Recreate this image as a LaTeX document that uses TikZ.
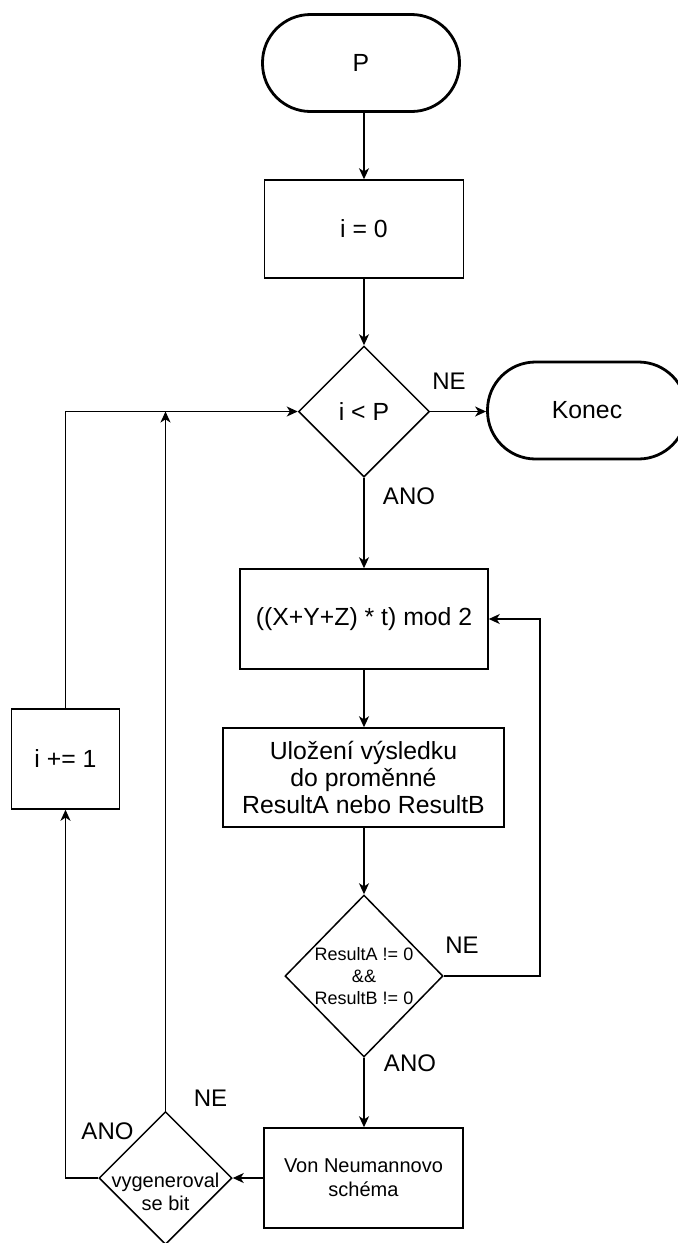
\documentclass[tikz,border=0pt]{standalone}
\usepackage{fontspec}
\setmainfont{Liberation Sans}
\usetikzlibrary{shapes.geometric,arrows.meta}

\begin{document}
\begin{tikzpicture}[x=0.5pt,y=-0.5pt,
        term/.style={draw,line width=1.4pt,rounded corners=24pt,
            minimum width=98.5pt,minimum height=48.5pt,font=\fontsize{12.4}{13.7}\selectfont},
        proc/.style={draw,line width=0.75pt,minimum height=49pt,align=center,
            font=\fontsize{12.4}{13.7}\selectfont},
        decision/.style={draw,diamond,inner sep=0pt,line width=0.75pt,align=center},
        lbl/.style={font=\fontsize{12}{13.5}\selectfont},
        arrow/.style={line width=0.75pt,-{Stealth[length=5.5pt,width=5pt,inset=1.6pt]}}]
	\useasboundingbox (0,0) rectangle (678,1243);

    \node[term] (start) at (361,63) {P};
    \node[proc,minimum width=99.5pt] (init) at (364,229) {i = 0};
    \node[decision,minimum width=65.5pt,minimum height=65.5pt,
        font=\fontsize{12.4}{13.7}\selectfont] (cond) at (364,411.5) {i < P};
    \node[term,minimum width=99.5pt] (konec) at (587,410.5) {Konec};
    \node[proc,minimum width=124pt,minimum height=50pt] (mod) at (364,619) {((X+Y+Z) * t) mod 2};
    \node[proc,minimum width=140.5pt,minimum height=49.5pt] (store) at (363.5,777.5)
        {Uložení výsledku\\do proměnné\\ResultA nebo ResultB};
    \node[decision,minimum width=79pt,minimum height=81pt,
        font=\fontsize{9}{11}\selectfont] (check) at (364,976)
        {ResultA != 0\\\&\&\\ResultB != 0};
    \node[proc,minimum width=99.5pt,minimum height=50pt,
        font=\fontsize{10}{12}\selectfont] (vn) at (363.5,1178) {Von Neumannovo\\schéma};
    \node[decision,minimum width=66.5pt,minimum height=66.5pt,
        label={[font=\fontsize{10}{11.5}\selectfont,align=center,yshift=-7pt]center:{vygeneroval\\se bit}}]
        (bit) at (165.5,1178) {};
    \node[proc,minimum width=54pt,minimum height=50pt] (inc) at (65.5,759) {i += 1};

	\draw[arrow] (start.south -| init.north) -- (init.north);
	\draw[arrow] (init.south) -- (cond.north);
	\draw[arrow] (cond.east) -- (cond.east -| konec.west);
	\draw[arrow] (cond.south) -- (mod.north);
	\draw[arrow] (mod.south) -- (mod.south |- store.north);
	\draw[arrow] (store.south -| check.north) -- (check.north);
	\draw[arrow] (check.east) -- ++(96,0) |- (mod.east);
	\draw[arrow] (check.south) -- (check.south |- vn.north);
	\draw[arrow] (vn.west) -- (bit.east);
	\draw[arrow] (bit.west) -| (inc.south);
	\draw[arrow] (inc.north) |- (cond.west);
	\draw[arrow] (bit.north) -- (bit.north |- cond.west);

    \node[lbl] (ne1) at (449,381) {NE};
    \node[lbl] (ano1) at (409,496.5) {ANO};
    \node[lbl] (ne2) at (462,945) {NE};
    \node[lbl] (ano2) at (410,1063) {ANO};
    \node[lbl] (ne3) at (210.5,1098) {NE};
    \node[lbl] (ano3) at (107.5,1131) {ANO};
\end{tikzpicture}
\end{document}
